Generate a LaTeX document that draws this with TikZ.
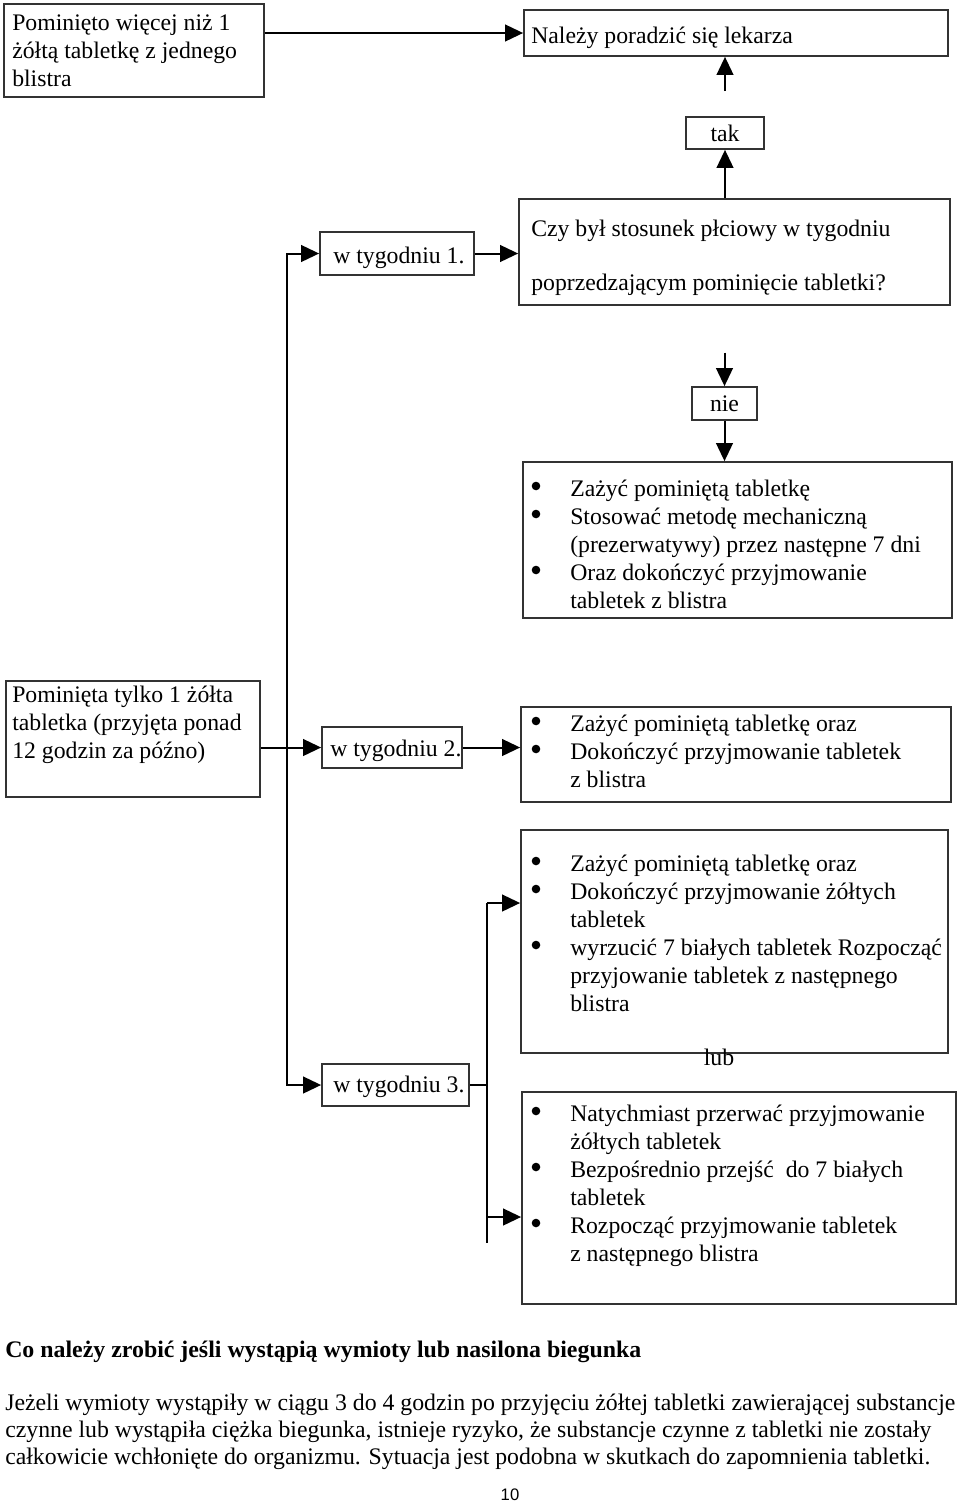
\documentclass[tikz,border=0pt]{standalone}
\usepackage{fontspec}
\setmainfont{Liberation Serif}
\newfontfamily\sansf{Liberation Sans}
\usetikzlibrary{fit,arrows.meta}
\tikzset{
  box/.style={draw=black!80, line width=1.3pt, inner sep=0pt, fit={#1}},
  tnode/.style={anchor=base west, inner sep=0pt, font=\fontsize{17.8}{21}\selectfont},
  lbl/.style={draw=black!80, line width=1.3pt, inner sep=0pt, font=\fontsize{17.8}{21}\selectfont},
  conn/.style={line width=1.5pt, black},
  arr/.style={conn, -{Triangle[length=13.5pt,width=12.5pt]}},
  darr/.style={conn, {Triangle[length=13.5pt,width=12.5pt]}-{Triangle[length=13.5pt,width=12.5pt]}},
  dot/.style={fill=black},
}
\newcommand{\pb}[2][284pt]{\parbox[t]{#1}{\raggedright\fontsize{17.8}{21}\selectfont #2}}
\begin{document}
\begin{tikzpicture}[x=0.75pt,y=-0.75pt]
\useasboundingbox[fill=white] (0,0) rectangle (960,1504);
% boxes
\node[box={(4,4) (264,97)}] (A) {};
\node[box={(524,10) (948,56)}] (B) {};
\node[lbl, minimum width=58.5pt, minimum height=24pt] (tak) at (725,133) {tak};
\node[box={(320,232) (474,275)}] (t1) {};
\node[box={(519,199) (950,305)}] (Czy) {};
\node[lbl, minimum width=48.75pt, minimum height=24.75pt] (nie) at (724.5,403.5) {nie};
\node[box={(523,462) (952,618)}] (E) {};
\node[box={(6,681) (260,797)}] (C) {};
\node[box={(322,727) (462,768)}] (t2) {};
\node[box={(521,707) (951,802)}] (D) {};
\node[box={(521,830) (948,1053)}] (F) {};
\node[box={(322,1064) (469,1106)}] (t3) {};
\node[box={(522,1092) (956,1304)}] (G) {};
% bullets
\foreach \y in {486,514,570, 721,749, 861,889,945, 1111,1167,1223}
  \fill[dot] (536,\y) circle[radius=4.3];
% texts
\node[tnode] (Atx) at (12,30) {\pb[186pt]{Pominięto więcej niż 1\\żółtą tabletkę z jednego\\blistra}};
\node[tnode] (Btx) at (531,43) {Należy poradzić się lekarza};
\node[tnode] (t1tx) at (333,263) {w tygodniu 1.};
\node[tnode] (Czytx) at (531,236) {\pb[300pt]{Czy był stosunek płciowy w tygodniu\\[19.5pt]poprzedzającym pominięcie tabletki?}};
\node[tnode] (Etx) at (570,496) {\pb{Zażyć pominiętą tabletkę\\Stosować metodę mechaniczną\\(prezerwatywy) przez następne 7 dni\\Oraz dokończyć przyjmowanie\\tabletek z blistra}};
\node[tnode] (Ctx) at (12,702) {\pb[186pt]{Pominięta tylko 1 żółta\\tabletka (przyjęta ponad\\12 godzin za późno)}};
\node[tnode] (t2tx) at (330,756) {w tygodniu 2.};
\node[tnode] (Dtx) at (570,731) {\pb{Zażyć pominiętą tabletkę oraz\\Dokończyć przyjmowanie tabletek\\z blistra}};
\node[tnode] (Ftx) at (570,871) {\pb{Zażyć pominiętą tabletkę oraz\\Dokończyć przyjmowanie żółtych\\tabletek\\wyrzucić 7 białych tabletek Rozpocząć\\przyjowanie tabletek z następnego\\blistra}};
\node[tnode, anchor=base] (lub) at (719,1065) {lub};
\node[tnode] (t3tx) at (333,1092) {w tygodniu 3.};
\node[tnode] (Gtx) at (570,1121) {\pb{Natychmiast przerwać przyjmowanie\\żółtych tabletek\\Bezpośrednio przejść\ \ do 7 białych\\tabletek\\Rozpocząć przyjmowanie tabletek\\z następnego blistra}};
% bottom text
\node[tnode, font=\fontsize{17.8}{21}\selectfont\bfseries] (head) at (5,1357) {\resizebox{477pt}{\height}{Co należy zrobić jeśli wystąpią wymioty lub nasilona biegunka}};
\node[tnode] (p1) at (5,1410) {\resizebox{712.5pt}{\height}{Jeżeli wymioty wystąpiły w ciągu 3 do 4 godzin po przyjęciu żółtej tabletki zawierającej substancje}};
\node[tnode] (p2) at (5,1437) {\resizebox{694.5pt}{\height}{czynne lub wystąpiła ciężka biegunka, istnieje ryzyko, że substancje czynne z tabletki nie zostały}};
\node[tnode] (p3) at (5,1464) {\resizebox{693.75pt}{\height}{całkowicie wchłonięte do organizmu. Sytuacja jest podobna w skutkach do zapomnienia tabletki.}};
\node[anchor=base, inner sep=0pt, font=\sansf\fontsize{12.5}{14}\selectfont] (pg) at (510,1500) {10};
% connectors
\coordinate (sp) at (287,0);
\coordinate (sq) at (487,0);
\coordinate (f1) at (487,903);
\coordinate (g1) at (487,1217);
\coordinate (gE) at (487,1243);
\draw[arr] (A.east |- B.west) -- (B.west);
\draw[arr, shorten <=18.75pt] (tak.north) -- (tak.north |- B.south);
\draw[arr] (tak.south |- Czy.north) -- (tak.south);
\draw[arr] (t1.east) -- (t1.east -| Czy.west);
\draw[arr, shorten <=35pt] (nie.north |- Czy.south) -- (nie.north);
\draw[arr] (nie.south) -- (nie.south |- E.north);
\draw[darr] (t1.west) -- (t1.west -| sp) -- (t3.west -| sp) -- (t3.west);
\draw[arr] (C.east |- t2.west) -- (t2.west);
\draw[arr] (t2.east) -- (t2.east -| D.west);
\draw[conn] (t3.east) -- (t3.east -| sq);
\draw[conn] (f1) -- (gE);
\draw[arr] (f1) -- (f1 -| F.west);
\draw[arr] (g1) -- (g1 -| G.west);
\end{tikzpicture}
\end{document}
